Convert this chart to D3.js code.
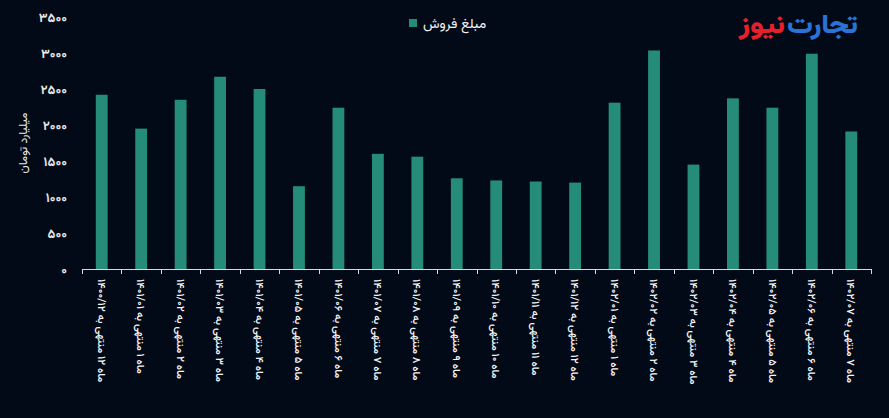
<!DOCTYPE html>
<html>
<head>
<meta charset="utf-8">
<script src="https://cdn.jsdelivr.net/npm/d3@7"></script>
<style>
  html, body { margin: 0; padding: 0; background: #020a18; }
  svg { display: block; }
  text { font-family: "Vazirmatn", "DejaVu Sans", sans-serif; }
</style>
</head>
<body>
<svg id="chart" width="889" height="418"></svg>
<script>
const categories = [
  "ماه ۱۲ منتهی به ۱۴۰۰/۱۲",
  "ماه ۱ منتهی به ۱۴۰۱/۰۱",
  "ماه ۲ منتهی به ۱۴۰۱/۰۲",
  "ماه ۳ منتهی به ۱۴۰۱/۰۳",
  "ماه ۴ منتهی به ۱۴۰۱/۰۴",
  "ماه ۵ منتهی به ۱۴۰۱/۰۵",
  "ماه ۶ منتهی به ۱۴۰۱/۰۶",
  "ماه ۷ منتهی به ۱۴۰۱/۰۷",
  "ماه ۸ منتهی به ۱۴۰۱/۰۸",
  "ماه ۹ منتهی به ۱۴۰۱/۰۹",
  "ماه ۱۰ منتهی به ۱۴۰۱/۱۰",
  "ماه ۱۱ منتهی به ۱۴۰۱/۱۱",
  "ماه ۱۲ منتهی به ۱۴۰۱/۱۲",
  "ماه ۱ منتهی به ۱۴۰۲/۰۱",
  "ماه ۲ منتهی به ۱۴۰۲/۰۲",
  "ماه ۳ منتهی به ۱۴۰۲/۰۳",
  "ماه ۴ منتهی به ۱۴۰۲/۰۴",
  "ماه ۵ منتهی به ۱۴۰۲/۰۵",
  "ماه ۶ منتهی به ۱۴۰۲/۰۶",
  "ماه ۷ منتهی به ۱۴۰۲/۰۷"
];
const salesValues = [2420, 1950, 2350, 2670, 2500, 1150, 2240, 1600, 1560, 1260,
                     1230, 1215, 1200, 2310, 3035, 1450, 2370, 2240, 2990, 1910];
const yTicks = [0, 500, 1000, 1500, 2000, 2500, 3000, 3500];
const seriesName = "مبلغ فروش";
const yTitle = "میلیارد تومان";
const logoBlue = "تجارت";
const logoRed = "نیوز";

const faDigits = "۰۱۲۳۴۵۶۷۸۹";
const toFa = s => String(s).replace(/[0-9]/g, d => faDigits[+d]);

const svg = d3.select("#chart");
const W = 889, H = 418;
const m = { left: 82, right: 18, top: 17, bottom: 149 };
const barColor = "#268c7a";

svg.append("rect").attr("width", W).attr("height", H).attr("fill", "#020a18");

const x = d3.scaleBand().domain(categories).range([m.left, W - m.right]).paddingInner(0.7).paddingOuter(0.35);
const y = d3.scaleLinear().domain([0, 3500]).range([H - m.bottom, m.top]);

// bars
svg.append("g").selectAll("rect").data(salesValues).join("rect")
  .attr("x", (d, i) => x(categories[i]))
  .attr("width", x.bandwidth())
  .attr("y", d => y(d))
  .attr("height", d => y(0) - y(d))
  .attr("fill", barColor);

// y axis labels
const yAxis = d3.axisLeft(y).tickValues(yTicks).tickSize(0).tickPadding(15).tickFormat(d => toFa(d));
const gy = svg.append("g").attr("transform", `translate(${m.left},0)`).call(yAxis);
gy.select(".domain").remove();
gy.selectAll("text").attr("fill", "#e6e6e6").attr("font-size", 13).attr("font-weight", "bold")
  .attr("font-family", "Vazirmatn, 'DejaVu Sans', sans-serif");

// x axis: line and boundary ticks
const xAxisG = svg.append("g").attr("transform", `translate(0,${y(0)})`);
const x0 = m.left, x1 = W - m.right;
xAxisG.append("line").attr("x1", x0).attr("x2", x1).attr("y1", 0.5).attr("y2", 0.5)
  .attr("stroke", "#d9d9d9").attr("stroke-width", 1);
const boundaries = d3.range(categories.length + 1).map(i => x0 + (x1 - x0) * i / categories.length);
xAxisG.selectAll("line.tk").data(boundaries).join("line").attr("class", "tk")
  .attr("x1", d => Math.round(d) + 0.5).attr("x2", d => Math.round(d) + 0.5)
  .attr("y1", 0).attr("y2", 5).attr("stroke", "#d9d9d9");
xAxisG.selectAll("text").data(categories).join("text")
  .attr("transform", d => `translate(${x(d) + x.bandwidth() / 2},10) rotate(90)`)
  .attr("text-anchor", "start")
  .attr("dy", "0.35em")
  .attr("fill", "#f5f5f5")
  .attr("font-size", 11)
  .attr("font-weight", 500)
  .text(d => d);

// y title
svg.append("text")
  .attr("transform", `translate(23,143) rotate(-90)`)
  .attr("text-anchor", "middle").attr("dy", "0.35em")
  .attr("fill", "#e6e6e6").attr("font-size", 12)
  .text(yTitle);

// legend
svg.append("rect").attr("x", 409).attr("y", 19).attr("width", 8).attr("height", 8).attr("fill", barColor);
svg.append("text").attr("x", 423).attr("y", 23).attr("dy", "0.35em")
  .attr("text-anchor", "start").attr("fill", "#f2f2f2").attr("font-size", 14)
  .text(seriesName);

// logo
svg.append("text").attr("x", 787).attr("y", 33).attr("text-anchor", "start")
  .attr("textLength", 71).attr("lengthAdjust", "spacingAndGlyphs")
  .attr("fill", "#2a72d6").attr("font-size", 26).attr("font-weight", 900).text(logoBlue);
svg.append("text").attr("x", 739).attr("y", 33).attr("text-anchor", "start")
  .attr("textLength", 46).attr("lengthAdjust", "spacingAndGlyphs")
  .attr("fill", "#e8202c").attr("font-size", 26).attr("font-weight", 900).text(logoRed);
</script>
</body>
</html>
